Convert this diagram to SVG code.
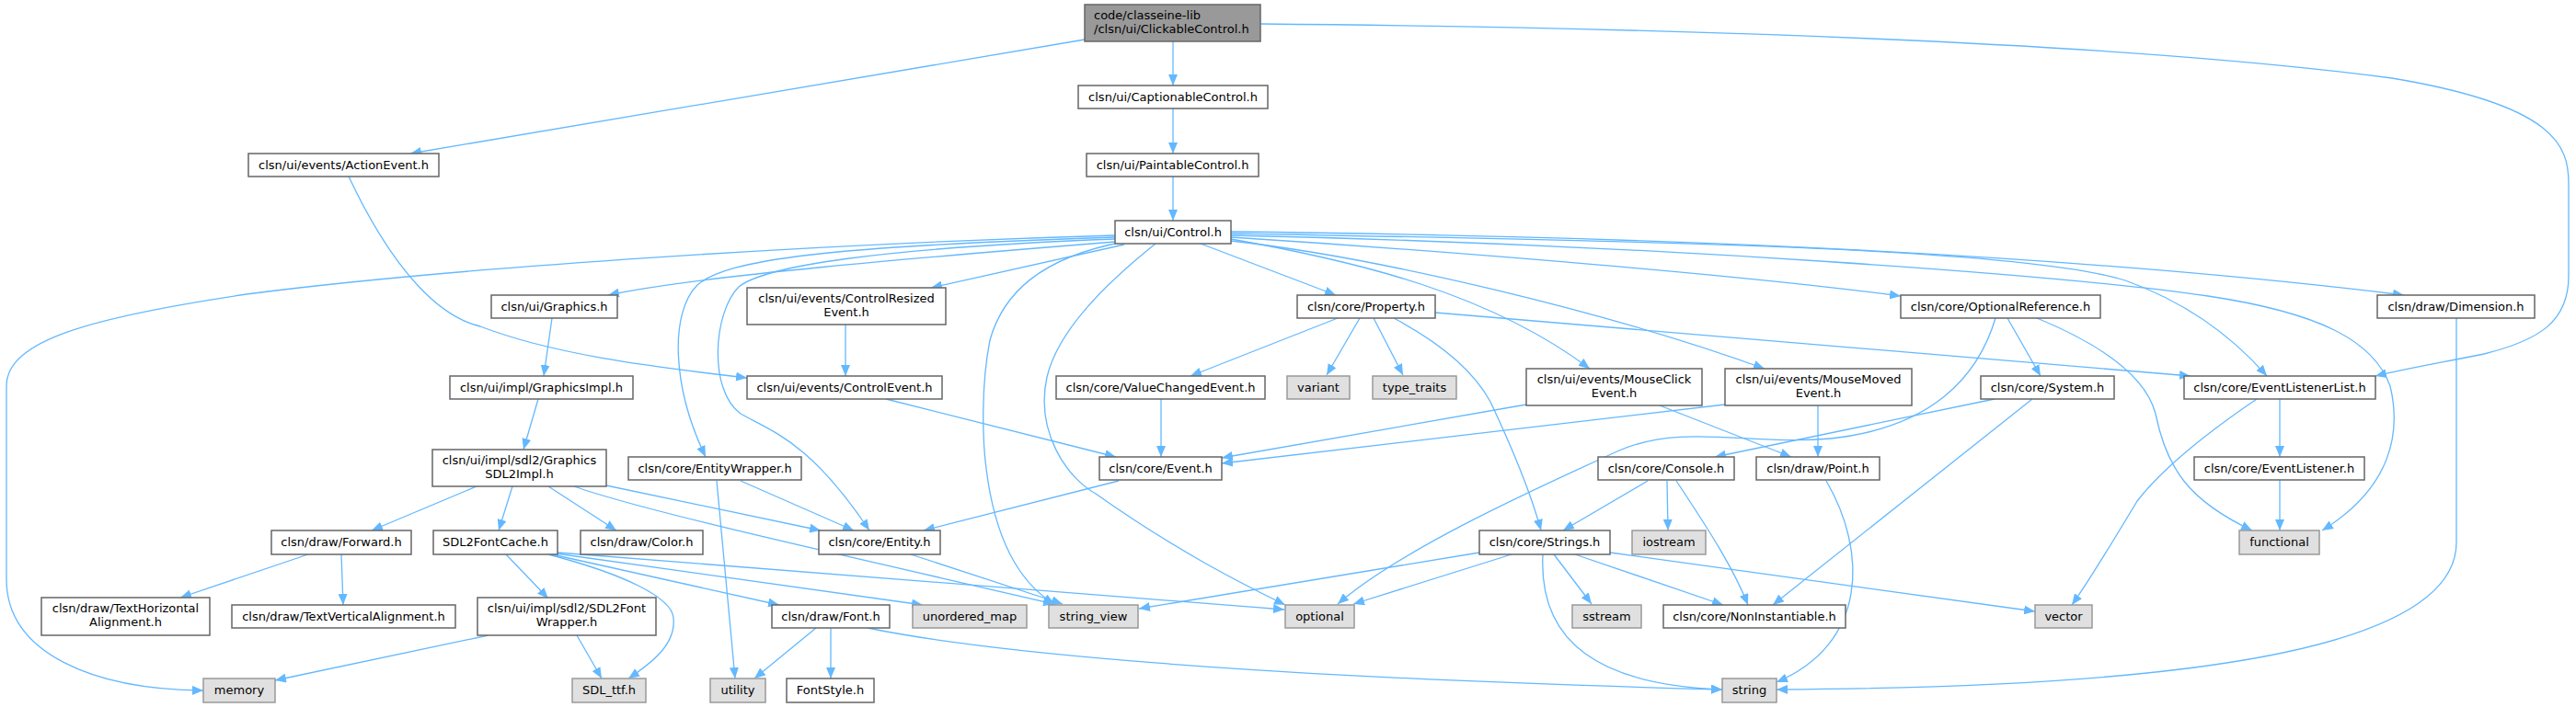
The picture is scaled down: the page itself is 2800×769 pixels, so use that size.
<svg xmlns="http://www.w3.org/2000/svg" width="2800" height="769" viewBox="0 0 2800 769">
<defs>
<style>
.n rect{fill:#ffffff;stroke:#666666;stroke-width:1.5}
.x rect{fill:#e0e0e0;stroke:#999999;stroke-width:1.5}
.r rect{fill:#999999;stroke:#666666;stroke-width:1.5}
text{font-family:"DejaVu Sans","Liberation Sans",sans-serif;font-size:13px;fill:#000000;text-anchor:middle}
.r text{text-anchor:start}
#edges path{fill:none;stroke:#63b8ff;stroke-width:1.3;marker-end:url(#a)}
</style>
<marker id="a" markerWidth="12" markerHeight="10" refX="12" refY="5" orient="auto" markerUnits="userSpaceOnUse"><path d="M0,0 L12,5 L0,10 z" fill="#63b8ff"/></marker>
</defs>
<rect width="2800" height="769" fill="#ffffff"/>
<g id="edges">
<path d="M1179,43 L446,167"/>
<path d="M1275,45 L1275,93"/>
<path d="M1275,118 L1275,167"/>
<path d="M1275,192 L1275,240"/>
<path d="M1370,26 C1800,30 2300,45 2600,85 C2780,115 2792,160 2792,200 L2792,300 C2792,350 2760,370 2700,385 C2650,395 2610,402 2582,409"/>
<path d="M379,192 C430,300 480,345 522,355 C600,385 700,398 812,411"/>
<path d="M1212,256 C900,265 500,290 268,320 C100,345 7,370 7,420 L7,630 C7,710 100,750 221,751"/>
<path d="M1212,263 C1000,280 760,300 661,321"/>
<path d="M1222,266 L1012,313"/>
<path d="M1212,258 C900,268 790,282 758,310 C728,340 730,420 767,497"/>
<path d="M1212,260 C950,270 830,290 803,312 C775,340 770,425 805,450 C840,470 880,480 945,577"/>
<path d="M1222,263 C1130,280 1090,320 1076,370 C1066,420 1068,480 1072,510 C1082,590 1110,635 1146,657"/>
<path d="M1256,265 C1200,310 1150,360 1138,410 C1125,470 1160,520 1191,537 C1280,600 1350,635 1397,658"/>
<path d="M1305,265 L1452,321"/>
<path d="M1338,258 C1600,275 1900,300 2066,322"/>
<path d="M1338,252 C1700,256 2200,270 2613,321"/>
<path d="M1338,254 C1800,262 2200,270 2310,305 C2380,330 2430,370 2464,409"/>
<path d="M1338,256 C1800,266 2250,300 2400,322 C2520,340 2580,370 2598,420 C2610,470 2600,530 2524,577"/>
<path d="M1338,260 C1480,285 1620,320 1728,401"/>
<path d="M1338,262 C1500,280 1750,340 1918,401"/>
<path d="M600,346 L591,409"/>
<path d="M585,434 L569,489"/>
<path d="M518,529 L404,577"/>
<path d="M557,529 L542,577"/>
<path d="M596,529 L670,577"/>
<path d="M659,528 L892,577"/>
<path d="M624,529 C700,556 900,600 1146,657"/>
<path d="M805,523 L928,577"/>
<path d="M779,523 L799,738"/>
<path d="M919,353 L919,409"/>
<path d="M963,434 L1213,497"/>
<path d="M1262,434 L1262,497"/>
<path d="M1216,523 L1004,577"/>
<path d="M990,603 L1155,657"/>
<path d="M1454,346 L1294,409"/>
<path d="M1478,346 L1442,408"/>
<path d="M1493,346 L1525,408"/>
<path d="M1515,346 C1560,370 1600,400 1620,437 C1645,490 1665,540 1675,577"/>
<path d="M1560,340 L2381,409"/>
<path d="M1659,440 L1328,498"/>
<path d="M1875,440 L1328,504"/>
<path d="M1804,441 L1947,497"/>
<path d="M1976,441 L1976,497"/>
<path d="M2182,346 L2218,409"/>
<path d="M2169,346 C2150,410 2100,465 1990,477 C1900,485 1830,460 1760,490 C1650,540 1520,600 1454,657"/>
<path d="M2214,346 C2260,365 2330,400 2343,450 C2355,510 2380,545 2448,577"/>
<path d="M2168,434 L1864,497"/>
<path d="M2209,434 L1927,658"/>
<path d="M1791,523 L1699,577"/>
<path d="M1812,523 L1813,577"/>
<path d="M1822,523 C1860,580 1885,620 1900,658"/>
<path d="M1608,601 L1238,662"/>
<path d="M1643,603 L1471,657"/>
<path d="M1689,603 L1730,657"/>
<path d="M1712,603 L1873,658"/>
<path d="M1677,603 C1672,700 1740,745 1872,750"/>
<path d="M1750,601 L2212,665"/>
<path d="M1985,523 C2030,600 2030,700 1931,742"/>
<path d="M2670,346 L2670,590 C2670,720 2300,748 1931,750"/>
<path d="M2478,434 L2478,497"/>
<path d="M2453,434 C2400,470 2350,510 2323,545 C2290,600 2265,640 2252,658"/>
<path d="M2478,522 L2478,577"/>
<path d="M335,603 L196,650"/>
<path d="M371,603 L373,658"/>
<path d="M550,603 L596,651"/>
<path d="M596,603 C680,625 730,650 732,672 C735,700 710,720 683,738"/>
<path d="M600,603 L847,658"/>
<path d="M604,602 L1003,658"/>
<path d="M606,601 C800,615 1100,640 1396,663"/>
<path d="M531,691 L299,740"/>
<path d="M627,691 L654,738"/>
<path d="M887,683 L820,738"/>
<path d="M903,683 L903,738"/>
<path d="M943,683 C1050,705 1300,735 1872,750"/>
</g>
<g id="n0" class="r"><rect x="1179" y="5" width="191" height="40"/><text x="1189" y="21">code/classeine-lib</text><text x="1189" y="36">/clsn/ui/ClickableControl.h</text></g>
<g id="n1" class="n"><rect x="270" y="167" width="207" height="25"/><text x="373.5" y="184">clsn/ui/events/ActionEvent.h</text></g>
<g id="n2" class="n"><rect x="1172" y="93" width="206" height="25"/><text x="1275" y="110">clsn/ui/CaptionableControl.h</text></g>
<g id="n3" class="n"><rect x="1181" y="167" width="187" height="25"/><text x="1274.5" y="184">clsn/ui/PaintableControl.h</text></g>
<g id="n4" class="n"><rect x="1212" y="240" width="126" height="25"/><text x="1275" y="257">clsn/ui/Control.h</text></g>
<g id="n5" class="n"><rect x="534" y="321" width="137" height="25"/><text x="602.5" y="338">clsn/ui/Graphics.h</text></g>
<g id="n6" class="n"><rect x="812" y="313" width="216" height="40"/><text x="920" y="329">clsn/ui/events/ControlResized</text><text x="920" y="344">Event.h</text></g>
<g id="n7" class="n"><rect x="1410" y="321" width="150" height="25"/><text x="1485" y="338">clsn/core/Property.h</text></g>
<g id="n8" class="n"><rect x="2066" y="321" width="217" height="25"/><text x="2174.5" y="338">clsn/core/OptionalReference.h</text></g>
<g id="n9" class="n"><rect x="2584" y="321" width="171" height="25"/><text x="2669.5" y="338">clsn/draw/Dimension.h</text></g>
<g id="n10" class="n"><rect x="489" y="409" width="199" height="25"/><text x="588.5" y="426">clsn/ui/impl/GraphicsImpl.h</text></g>
<g id="n11" class="n"><rect x="812" y="409" width="212" height="25"/><text x="918" y="426">clsn/ui/events/ControlEvent.h</text></g>
<g id="n12" class="n"><rect x="1148" y="409" width="227" height="25"/><text x="1261.5" y="426">clsn/core/ValueChangedEvent.h</text></g>
<g id="n13" class="x"><rect x="1399" y="409" width="68" height="25"/><text x="1433" y="426">variant</text></g>
<g id="n14" class="x"><rect x="1492" y="409" width="91" height="25"/><text x="1537.5" y="426">type_traits</text></g>
<g id="n15" class="n"><rect x="1659" y="401" width="191" height="40"/><text x="1754.5" y="417">clsn/ui/events/MouseClick</text><text x="1754.5" y="432">Event.h</text></g>
<g id="n16" class="n"><rect x="1875" y="401" width="203" height="40"/><text x="1976.5" y="417">clsn/ui/events/MouseMoved</text><text x="1976.5" y="432">Event.h</text></g>
<g id="n17" class="n"><rect x="2153" y="409" width="145" height="25"/><text x="2225.5" y="426">clsn/core/System.h</text></g>
<g id="n18" class="n"><rect x="2374" y="409" width="208" height="25"/><text x="2478" y="426">clsn/core/EventListenerList.h</text></g>
<g id="n19" class="n"><rect x="470" y="489" width="189" height="40"/><text x="564.5" y="505">clsn/ui/impl/sdl2/Graphics</text><text x="564.5" y="520">SDL2Impl.h</text></g>
<g id="n20" class="n"><rect x="683" y="497" width="188" height="25"/><text x="777" y="514">clsn/core/EntityWrapper.h</text></g>
<g id="n21" class="n"><rect x="1195" y="497" width="133" height="25"/><text x="1261.5" y="514">clsn/core/Event.h</text></g>
<g id="n22" class="n"><rect x="1737" y="497" width="148" height="25"/><text x="1811" y="514">clsn/core/Console.h</text></g>
<g id="n23" class="n"><rect x="1909" y="497" width="134" height="25"/><text x="1976" y="514">clsn/draw/Point.h</text></g>
<g id="n24" class="n"><rect x="2385" y="497" width="185" height="25"/><text x="2477.5" y="514">clsn/core/EventListener.h</text></g>
<g id="n25" class="n"><rect x="295" y="577" width="152" height="26"/><text x="371" y="594">clsn/draw/Forward.h</text></g>
<g id="n26" class="n"><rect x="471" y="577" width="135" height="26"/><text x="538.5" y="594">SDL2FontCache.h</text></g>
<g id="n27" class="n"><rect x="631" y="577" width="133" height="26"/><text x="697.5" y="594">clsn/draw/Color.h</text></g>
<g id="n28" class="n"><rect x="890" y="577" width="132" height="26"/><text x="956" y="594">clsn/core/Entity.h</text></g>
<g id="n29" class="n"><rect x="1608" y="577" width="142" height="26"/><text x="1679" y="594">clsn/core/Strings.h</text></g>
<g id="n30" class="x"><rect x="1774" y="577" width="80" height="26"/><text x="1814" y="594">iostream</text></g>
<g id="n31" class="x"><rect x="2434" y="577" width="87" height="26"/><text x="2477.5" y="594">functional</text></g>
<g id="n32" class="n"><rect x="45" y="650" width="183" height="41"/><text x="136.5" y="666">clsn/draw/TextHorizontal</text><text x="136.5" y="681">Alignment.h</text></g>
<g id="n33" class="n"><rect x="252" y="658" width="243" height="25"/><text x="373.5" y="675">clsn/draw/TextVerticalAlignment.h</text></g>
<g id="n34" class="n"><rect x="519" y="650" width="194" height="41"/><text x="616" y="666">clsn/ui/impl/sdl2/SDL2Font</text><text x="616" y="681">Wrapper.h</text></g>
<g id="n35" class="n"><rect x="839" y="658" width="128" height="25"/><text x="903" y="675">clsn/draw/Font.h</text></g>
<g id="n36" class="x"><rect x="992" y="658" width="124" height="25"/><text x="1054" y="675">unordered_map</text></g>
<g id="n37" class="x"><rect x="1140" y="658" width="97" height="25"/><text x="1188.5" y="675">string_view</text></g>
<g id="n38" class="x"><rect x="1397" y="658" width="75" height="25"/><text x="1434.5" y="675">optional</text></g>
<g id="n39" class="x"><rect x="1709" y="658" width="75" height="25"/><text x="1746.5" y="675">sstream</text></g>
<g id="n40" class="n"><rect x="1808" y="658" width="198" height="25"/><text x="1907" y="675">clsn/core/NonInstantiable.h</text></g>
<g id="n41" class="x"><rect x="2212" y="658" width="62" height="25"/><text x="2243" y="675">vector</text></g>
<g id="n42" class="x"><rect x="221" y="738" width="78" height="26"/><text x="260" y="755">memory</text></g>
<g id="n43" class="x"><rect x="622" y="738" width="80" height="26"/><text x="662" y="755">SDL_ttf.h</text></g>
<g id="n44" class="x"><rect x="772" y="738" width="60" height="26"/><text x="802" y="755">utility</text></g>
<g id="n45" class="n"><rect x="855" y="738" width="95" height="26"/><text x="902.5" y="755">FontStyle.h</text></g>
<g id="n46" class="x"><rect x="1872" y="738" width="59" height="26"/><text x="1901.5" y="755">string</text></g>
</svg>
